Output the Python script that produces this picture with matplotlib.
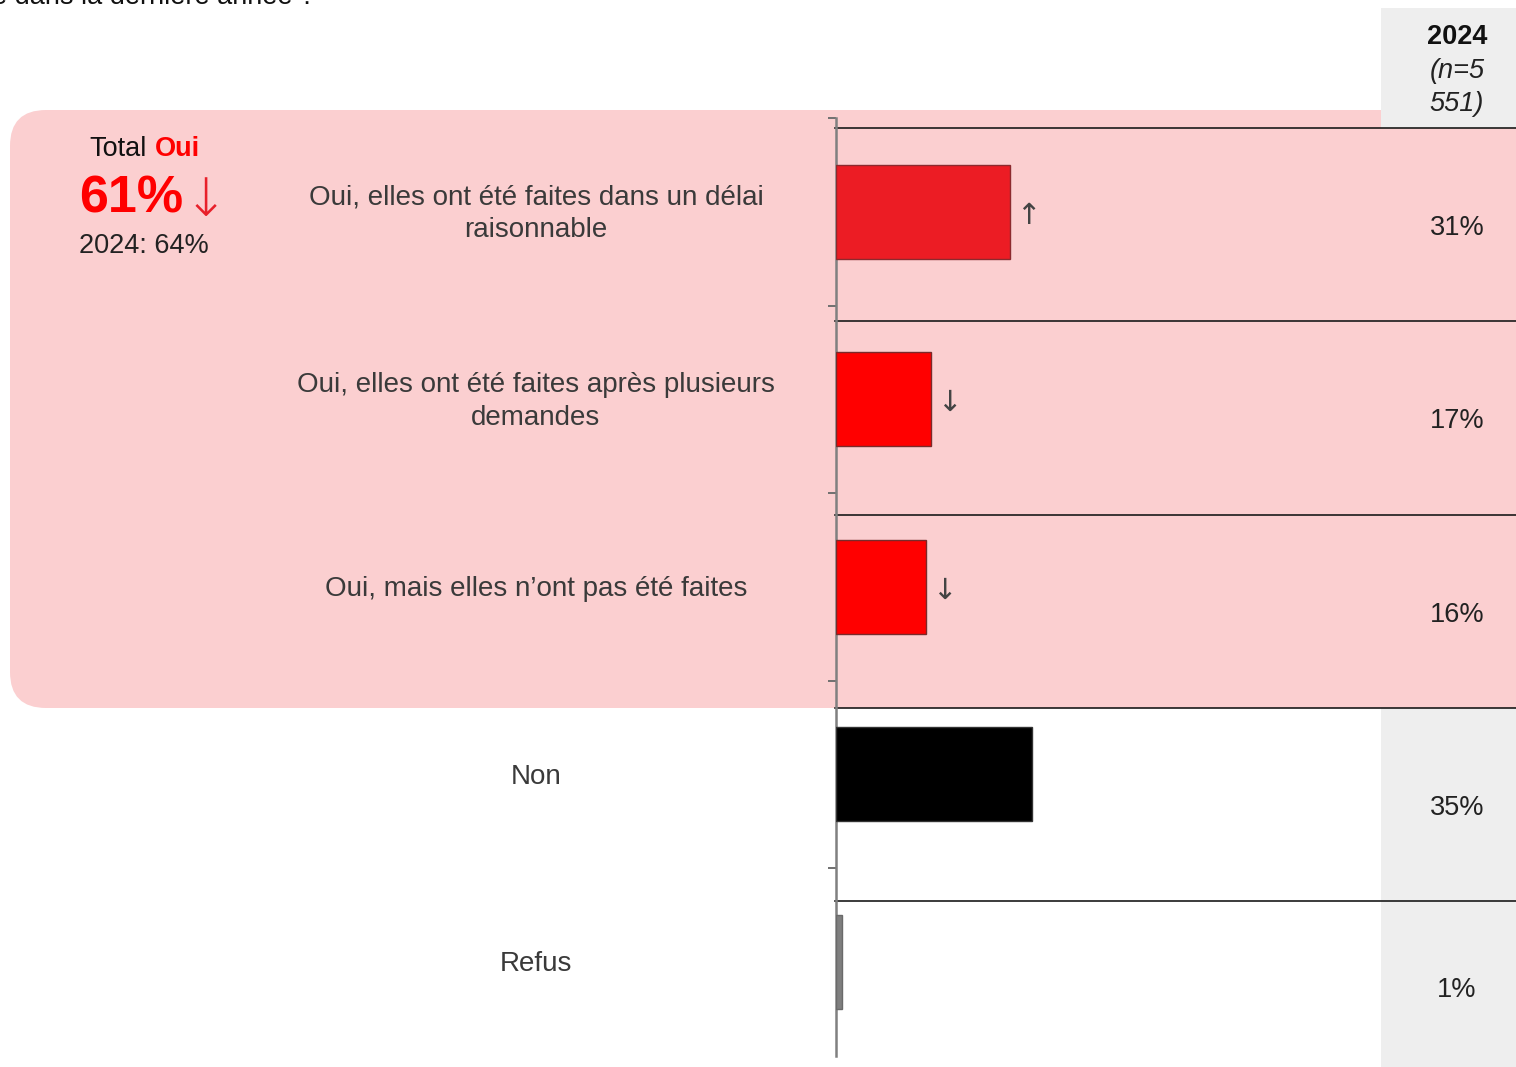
import matplotlib
matplotlib.use("Agg")
import matplotlib.pyplot as plt
from matplotlib.patches import FancyBboxPatch, Rectangle
from matplotlib.lines import Line2D
import matplotlib.transforms as mtransforms

plt.rcParams['font.family'] = ['Liberation Sans', 'DejaVu Sans']

# --- data -----------------------------------------------------------------
categories = [
    "Oui, elles ont été faites dans un délai\nraisonnable",
    "Oui, elles ont été faites après plusieurs\ndemandes",
    "Oui, mais elles n’ont pas été faites",
    "Non",
    "Refus",
]
values_2024 = [31, 17, 16, 35, 1]
value_labels = ["31%", "17%", "16%", "35%", "1%"]
trends = ["↑", "↓", "↓", "", ""]
bar_colors = ["#ec1c24", "#ff0000", "#ff0000", "#000000", "#7f7f7f"]
bar_edges = ["#8c2a2e", "#7a2a2a", "#7a2a2a", "#333333", "#6a6a6a"]

column_year = "2024"
column_n = ["(n=5", "551)"]
total_label = ("Total", "Oui")
total_value = "61%"
total_trend = "↓"
total_previous = "2024: 64%"
question_tail = "e dans la dernière année ?"

# --- figure ---------------------------------------------------------------
W, H = 1516, 1067
fig = plt.figure(figsize=(W / 100, H / 100), dpi=100)
fig.patch.set_facecolor("white")


def fx(x):
    return x / W


def fy(y):
    return 1 - y / H


# pixel-based transform (origin bottom-left, 100 px per inch)
pix = fig.dpi_scale_trans

PINK = "#fbcfd0"
GREY = "#eeeeee"

# pink highlight box behind the "Oui" answers
box = FancyBboxPatch((10 / 100, (H - 708) / 100), 16.0, (708 - 110) / 100,
                     boxstyle="round,pad=0,rounding_size=0.36",
                     transform=pix, facecolor=PINK, edgecolor="none", zorder=-3)
fig.patches.append(box)

# grey results column (header part and non-highlighted rows)
for y0, y1 in [(8, 128), (708, H)]:
    fig.patches.append(Rectangle((1381 / 100, (H - y1) / 100), (W - 1381) / 100,
                                 (y1 - y0) / 100, transform=pix,
                                 facecolor=GREY, edgecolor="none", zorder=-2))

# row separators of the results table
header_bottom = 128
row_h = 193.3
for i in range(5):
    y = header_bottom + i * row_h
    fig.lines.append(Line2D([fx(835), 1.0], [fy(y), fy(y)], transform=fig.transFigure,
                            color="#1a1a1a", lw=1.2, zorder=-1))

# --- bar axes ---------------------------------------------------------------
ax_top, ax_bot, ax_left = 118, 1055.5, 836
ax = fig.add_axes([fx(ax_left), fy(ax_bot), 1 - fx(ax_left), (ax_bot - ax_top) / H])
ax.patch.set_alpha(0)
px_per_pct = 5.6
ax.set_xlim(0, (W - ax_left) / px_per_pct)
ax.set_ylim(len(categories) - 0.5, -0.5)

ypos = list(range(len(categories)))
ax.barh(ypos, values_2024, height=0.5, color=bar_colors, edgecolor=bar_edges,
        linewidth=1.0, zorder=3)

for y, v, t in zip(ypos, values_2024, trends):
    if t:
        ax.text(v + 3.3, y + 0.02, t, ha="center", va="center", fontsize=21,
                color="#444444", family=["DejaVu Sans"], zorder=4)

for s in ["top", "right", "bottom"]:
    ax.spines[s].set_visible(False)
ax.spines["left"].set_color("#808080")
ax.spines["left"].set_linewidth(1.8)
ax.set_xticks([])
ax.set_yticks([y - 0.5 for y in ypos])
ax.set_yticklabels([])
ax.tick_params(axis="y", direction="out", length=6, width=1.4, color="#707070")

# category labels, centred in the left panel
lab_tr = mtransforms.blended_transform_factory(fig.transFigure, ax.transData)
for y, lab in zip(ypos, categories):
    ax.text(fx(536), y + 0.012, lab, transform=lab_tr, ha="center", va="center",
            fontsize=20, color="#3a3a3a", linespacing=1.33)

# results column values
row_centres = [228, 421, 615, 808, 990]
for yc, lab in zip(row_centres, value_labels):
    fig.text(fx(1457), fy(yc), lab, ha="center", va="center", fontsize=19.5,
             color="#222222")

# column header
fig.text(fx(1457), fy(37), column_year, ha="center", va="center", fontsize=19.5,
         fontweight="bold", color="#111111")
for yc, s in zip([71, 104], column_n):
    fig.text(fx(1457), fy(yc), s, ha="center", va="center", fontsize=19.5,
             style="italic", color="#222222")

# total "Oui" summary
fig.text(fx(147), fy(149), total_label[0], ha="right", va="center", fontsize=19.5,
         color="#111111")
fig.text(fx(155), fy(149), total_label[1], ha="left", va="center", fontsize=19.5,
         fontweight="bold", color="#ff0000")
fig.text(fx(183), fy(199), total_value, ha="right", va="center", fontsize=37.5,
         fontweight="bold", color="#ff0000")
fig.text(fx(184), fy(201), total_trend, ha="left", va="center", fontsize=38,
         color="#e8202a", family=["DejaVu Sans"], fontweight="light")
fig.text(fx(144), fy(246), total_previous, ha="center", va="center", fontsize=19.5,
         color="#222222")

# tail of the survey question, cut by the top edge
fig.text(fx(315), fy(3.5), question_tail, ha="right", va="baseline", fontsize=19.5,
         color="#111111")

fig.savefig("out.png", dpi=100)
